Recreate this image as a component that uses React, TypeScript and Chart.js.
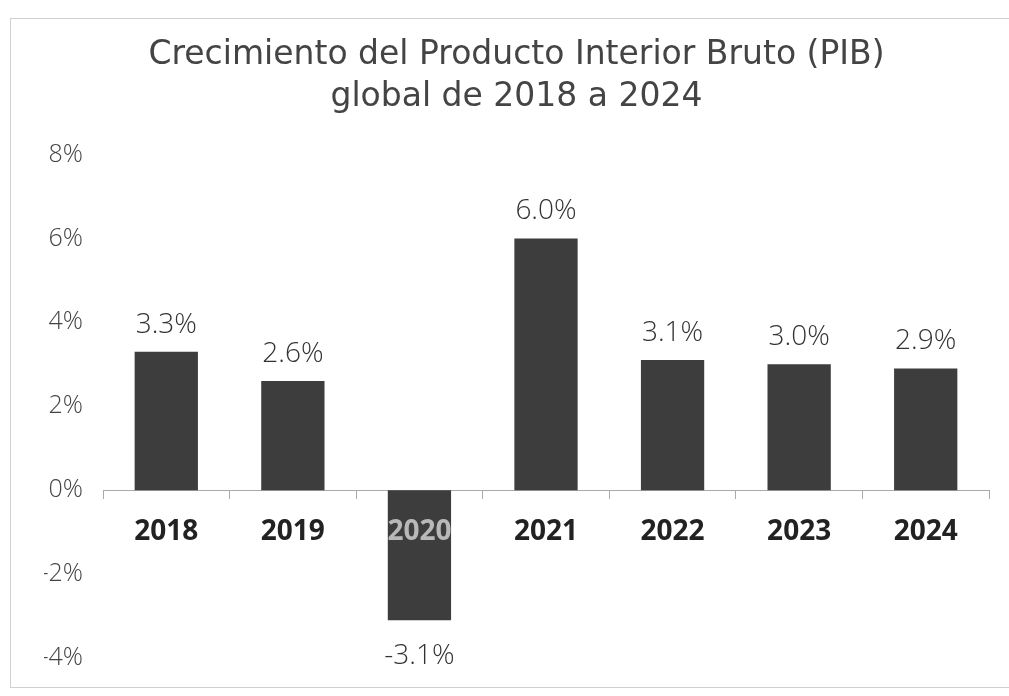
import React, { useEffect, useRef } from "react";
import { Chart, registerables } from "chart.js";

Chart.register(...registerables);

const titleLines = ["Crecimiento del Producto Interior Bruto (PIB)", "global de 2018 a 2024"];
const years = ["2018", "2019", "2020", "2021", "2022", "2023", "2024"];
const growth = [3.3, 2.6, -3.1, 6.0, 3.1, 3.0, 2.9];
const yMin = -4;
const yMax = 8;
const yStep = 2;

const valueLabels = {
  id: "valueLabels",
  afterDatasetsDraw(chart: any) {
    const { ctx } = chart;
    const meta = chart.getDatasetMeta(0);
    ctx.save();
    ctx.font = "300 28px 'Open Sans'";
    ctx.fillStyle = "#333";
    ctx.textAlign = "center";
    ctx.textBaseline = "middle";
    meta.data.forEach((bar: any, i: number) => {
      const v = growth[i];
      const y = v >= 0 ? bar.y - 27 : bar.y + 36;
      ctx.fillText(v.toFixed(1) + "%", bar.x, y);
    });
    ctx.restore();
  },
};

export default function App() {
  const ref = useRef<HTMLCanvasElement>(null);
  useEffect(() => {
    document.body.style.margin = "0";
    const chart = new Chart(ref.current!, {
      type: "bar",
      data: {
        labels: years,
        datasets: [
          {
            data: growth,
            backgroundColor: "#3d3d3d",
            barPercentage: 0.5,
            categoryPercentage: 1,
          },
        ],
      },
      plugins: [valueLabels],
      options: {
        animation: false,
        responsive: false,
        layout: { padding: { left: 44, right: 20, top: 0, bottom: 38 } },
        plugins: {
          legend: { display: false },
          tooltip: { enabled: false },
          title: {
            display: true,
            text: titleLines,
            color: "#444",
            font: { family: "'DejaVu Sans'", size: 33, weight: "normal", lineHeight: 1.28 },
            padding: { top: 34, bottom: 36 },
          },
        },
        scales: {
          x: {
            position: { y: 0 } as any,
            grid: {
              display: true,
              drawOnChartArea: false,
              drawTicks: true,
              tickLength: 8,
              offset: true,
              color: "#aaa",
            },
            border: { display: true, color: "#aaa" },
            ticks: {
              z: 1,
              color: (c: any) => (c.index === 2 ? "#b8b8b8" : "#222"),
              font: { family: "'Open Sans'", size: 28, weight: "bold" },
              padding: 17,
            },
          },
          y: {
            min: yMin,
            max: yMax,
            grid: { display: false },
            border: { display: false },
            ticks: {
              stepSize: yStep,
              color: "#444",
              font: { family: "'Open Sans'", size: 25, weight: "300" as any },
              padding: 12,
              callback: (v: any) => v + "%",
            },
            afterFit: (scale: any) => {
              scale.width = 59;
            },
          },
        },
      },
    });
    return () => chart.destroy();
  }, []);
  return (
    <div style={{ position: "relative", width: 1009, height: 696, background: "#fff" }}>
      <div
        style={{
          position: "absolute",
          left: 10,
          top: 18,
          width: 1005,
          height: 670,
          border: "1px solid #d0d0d0",
          boxSizing: "border-box",
        }}
      />
      <canvas ref={ref} width={1009} height={696} style={{ position: "absolute", left: 0, top: 0 }} />
    </div>
  );
}
